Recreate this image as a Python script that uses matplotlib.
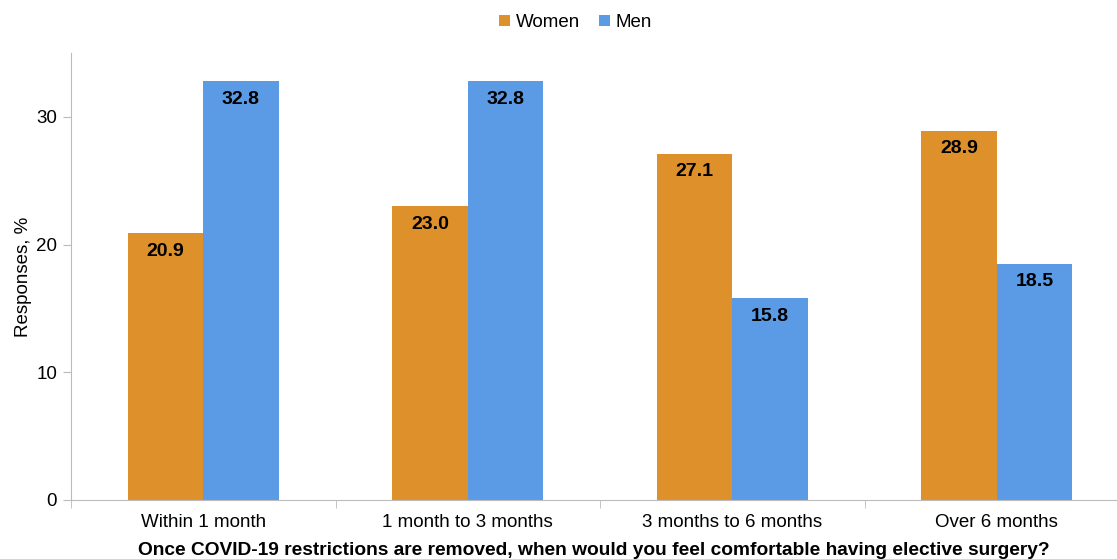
import matplotlib.pyplot as plt
import numpy as np

plt.rcParams['font.family'] = ['Liberation Sans', 'DejaVu Sans']

categories = ["Within 1 month", "1 month to 3 months", "3 months to 6 months", "Over 6 months"]
women = [20.9, 23.0, 27.1, 28.9]
men = [32.8, 32.8, 15.8, 18.5]

fig = plt.figure(figsize=(11.17, 5.59), dpi=100)
ax = fig.add_axes([71 / 1117, 59 / 559, 1 - 71 / 1117, (500 - 53) / 559])

x = np.arange(len(categories))
w = 0.285
b1 = ax.bar(x - w / 2, women, w, color='#DE912A', label='Women')
b2 = ax.bar(x + w / 2, men, w, color='#5B9BE6', label='Men')

for bars in (b1, b2):
    for r in bars:
        h = r.get_height()
        ax.text(r.get_x() + r.get_width() / 2, h - 0.75, f"{h:.1f}",
                ha='center', va='top', fontsize=14, fontweight='bold')

ax.set_xlim(-0.5, -0.5 + 1046 / 264.5)
ax.set_ylim(0, 35)
ax.set_yticks([0, 10, 20, 30])
ax.set_xticks(x)
ax.set_xticklabels(categories, fontsize=13.5)
ax.set_xticks(np.arange(len(categories)) - 0.5, minor=True)
ax.tick_params(axis='x', which='major', length=0, pad=10)
ax.tick_params(axis='x', which='minor', length=6, color='#BBBBBB')
ax.tick_params(axis='y', labelsize=13.5, length=6, color='#BBBBBB', pad=4)

for s in ('top', 'right'):
    ax.spines[s].set_visible(False)
for s in ('left', 'bottom'):
    ax.spines[s].set_color('#BBBBBB')

ax.set_ylabel('Responses, %', fontsize=13.5, labelpad=3)
ax.set_xlabel('Once COVID-19 restrictions are removed, when would you feel comfortable having elective surgery?',
              fontsize=13.8, fontweight='bold', labelpad=8)

fig.legend(loc='upper center', bbox_to_anchor=(0.515, 1.005), ncol=2, frameon=False,
           fontsize=13.5, handlelength=0.6, handleheight=0.6, handletextpad=0.3, columnspacing=1.0)

fig.savefig('out.png', dpi=100)
